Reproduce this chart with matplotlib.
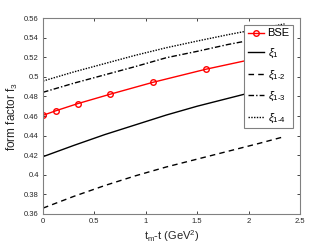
import matplotlib
matplotlib.use('Agg')
import matplotlib.pyplot as plt

plt.rcParams['font.family'] = ['Liberation Sans', 'DejaVu Sans']
plt.rcParams['mathtext.fontset'] = 'custom'
plt.rcParams['mathtext.rm'] = 'Liberation Sans'
plt.rcParams['mathtext.it'] = 'Liberation Sans:italic'

x_bse = [0, 0.126, 0.337, 0.652, 1.07, 1.583, 2.35]
f_bse = [0.4607, 0.4654, 0.4726, 0.4822, 0.4944, 0.5077, 0.525]
x_xi = [0, 0.3, 0.6, 0.9, 1.2, 1.5, 1.8, 2.1, 2.35]
f_xi1 = [0.4185, 0.430, 0.441, 0.451, 0.461, 0.470, 0.478, 0.486, 0.492]
f_xi12 = [0.366, 0.378, 0.389, 0.399, 0.408, 0.416, 0.424, 0.432, 0.439]
f_xi13 = [0.4842, 0.4935, 0.502, 0.5105, 0.5195, 0.526, 0.533, 0.539, 0.544]
f_xi14 = [0.4957, 0.505, 0.5135, 0.522, 0.5297, 0.5365, 0.543, 0.549, 0.554]
labels = ['BSE', r'$\xi_1$', r'$\xi_{1\text{-}2}$', r'$\xi_{1\text{-}3}$', r'$\xi_{1\text{-}4}$']

fig = plt.figure(figsize=(3.32, 2.49), dpi=100)
ax = fig.add_axes([0.1295, 0.1406, 0.774, 0.787])
gray = '#262626'
lw = 1.0
ax.plot(x_bse, f_bse, '-o', color='red', lw=lw, ms=4, mfc='none', mew=1.0, label=labels[0])
ax.plot(x_xi, f_xi1, '-', color='k', lw=lw, label=labels[1])
ax.plot(x_xi, f_xi12, color='k', lw=lw, dashes=(4, 3), label=labels[2])
ax.plot(x_xi, f_xi13, color='k', lw=lw, dashes=(4, 1.5, 1, 1.5), label=labels[3])
ax.plot(x_xi, f_xi14, color='k', lw=lw, dashes=(1, 1), label=labels[4])

ax.set_xlim(0, 2.5)
ax.set_ylim(0.36, 0.56)
ax.set_xticks([0, 0.5, 1, 1.5, 2, 2.5])
ax.set_xticklabels(['0', '0.5', '1', '1.5', '2', '2.5'])
ax.set_yticks([0.36, 0.38, 0.4, 0.42, 0.44, 0.46, 0.48, 0.5, 0.52, 0.54, 0.56])
ax.set_yticklabels(['0.36', '0.38', '0.4', '0.42', '0.44', '0.46', '0.48', '0.5', '0.52', '0.54', '0.56'])
ax.tick_params(direction='in', top=True, right=True, labelsize=5.5, colors=gray,
               length=2.5, width=0.6, pad=3)
for s in ax.spines.values():
    s.set_color('#808080')
    s.set_linewidth(0.8)

ax.set_xlabel(r't$_\mathrm{m}$-t (GeV$^2$)', fontsize=8, color=gray, labelpad=2)
ax.set_ylabel(r'form factor f$_3$', fontsize=8.5, color=gray, labelpad=3)

leg = ax.legend(loc='upper right', bbox_to_anchor=(0.973, 0.964), fontsize=8,
                handlelength=1.5, handletextpad=0.3, labelspacing=0.75,
                borderpad=0.3, borderaxespad=0, fancybox=False, framealpha=1)
leg.get_frame().set_edgecolor('#808080')
leg.get_frame().set_linewidth(0.8)

fig.savefig('out.png', dpi=100)
